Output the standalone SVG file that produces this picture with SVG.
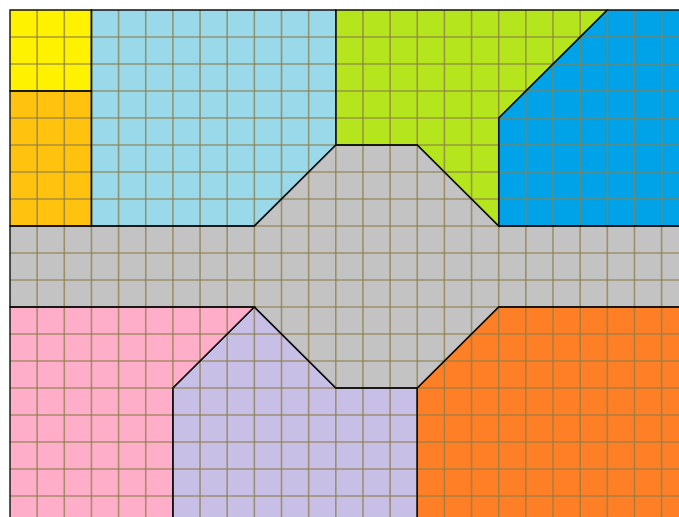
<svg xmlns="http://www.w3.org/2000/svg" xmlns:xlink="http://www.w3.org/1999/xlink" width="679" height="517" viewBox="0 0 679 517">
<style>
.grid{stroke:#8e7f4c;stroke-opacity:0.75;stroke-width:1.6;fill:none}
.edge{fill:none;stroke:#111;stroke-width:1.4;stroke-linejoin:miter}
</style>
<defs>
<polygon id="p-yellow" points="10,10 91.45,10 91.45,91 10,91"/>
<polygon id="p-gold" points="10,91 91.45,91 91.45,226 10,226"/>
<polygon id="p-lightblue" points="91.45,10 335.8,10 335.8,145 254.35,226 91.45,226"/>
<polygon id="p-green" points="335.8,10 607.3,10 498.7,118 498.7,226 417.25,145 335.8,145"/>
<polygon id="p-blue" points="607.3,10 700,10 700,226 498.7,226 498.7,118"/>
<polygon id="p-gray" points="335.8,145 417.25,145 498.7,226 700,226 700,307 498.7,307 417.25,388 335.8,388 254.35,307 10,307 10,226 254.35,226"/>
<polygon id="p-pink" points="10,307 254.35,307 172.9,388 172.9,530 10,530"/>
<polygon id="p-purple" points="254.35,307 335.8,388 417.25,388 417.25,530 172.9,530 172.9,388"/>
<polygon id="p-orange" points="498.7,307 700,307 700,530 417.25,530 417.25,388"/>
</defs>
<rect width="679" height="517" fill="#ffffff"/>
<g id="regions">
<g id="yellow"><use xlink:href="#p-yellow" href="#p-yellow" fill="#fff200"/></g>
<g id="gold"><use xlink:href="#p-gold" href="#p-gold" fill="#ffc20e"/></g>
<g id="lightblue"><use xlink:href="#p-lightblue" href="#p-lightblue" fill="#99d9ea"/></g>
<g id="green"><use xlink:href="#p-green" href="#p-green" fill="#b5e61d"/></g>
<g id="blue"><use xlink:href="#p-blue" href="#p-blue" fill="#00a2e8"/></g>
<g id="gray"><use xlink:href="#p-gray" href="#p-gray" fill="#c3c3c3"/></g>
<g id="pink"><use xlink:href="#p-pink" href="#p-pink" fill="#ffaec9"/></g>
<g id="purple"><use xlink:href="#p-purple" href="#p-purple" fill="#c8bfe7"/></g>
<g id="orange"><use xlink:href="#p-orange" href="#p-orange" fill="#ff7f27"/></g>
</g>
<g id="grid" class="grid">
<path d="M37.15,10V517M64.3,10V517M91.45,10V517M118.6,10V517M145.75,10V517M172.9,10V517M200.05,10V517M227.2,10V517M254.35,10V517M281.5,10V517M308.65,10V517M335.8,10V517M362.95,10V517M390.1,10V517M417.25,10V517M444.4,10V517M471.55,10V517M498.7,10V517M525.85,10V517M553,10V517M580.15,10V517M607.3,10V517M634.45,10V517M661.6,10V517"/>
<path d="M10,37H679M10,64H679M10,91H679M10,118H679M10,145H679M10,172H679M10,199H679M10,226H679M10,253H679M10,280H679M10,307H679M10,334H679M10,361H679M10,388H679M10,415H679M10,442H679M10,469H679M10,496H679"/>
</g>
<g id="edges" class="edge">
<use xlink:href="#p-yellow" href="#p-yellow"/>
<use xlink:href="#p-gold" href="#p-gold"/>
<use xlink:href="#p-lightblue" href="#p-lightblue"/>
<use xlink:href="#p-green" href="#p-green"/>
<use xlink:href="#p-blue" href="#p-blue"/>
<use xlink:href="#p-gray" href="#p-gray"/>
<use xlink:href="#p-pink" href="#p-pink"/>
<use xlink:href="#p-purple" href="#p-purple"/>
<use xlink:href="#p-orange" href="#p-orange"/>
</g>
</svg>
